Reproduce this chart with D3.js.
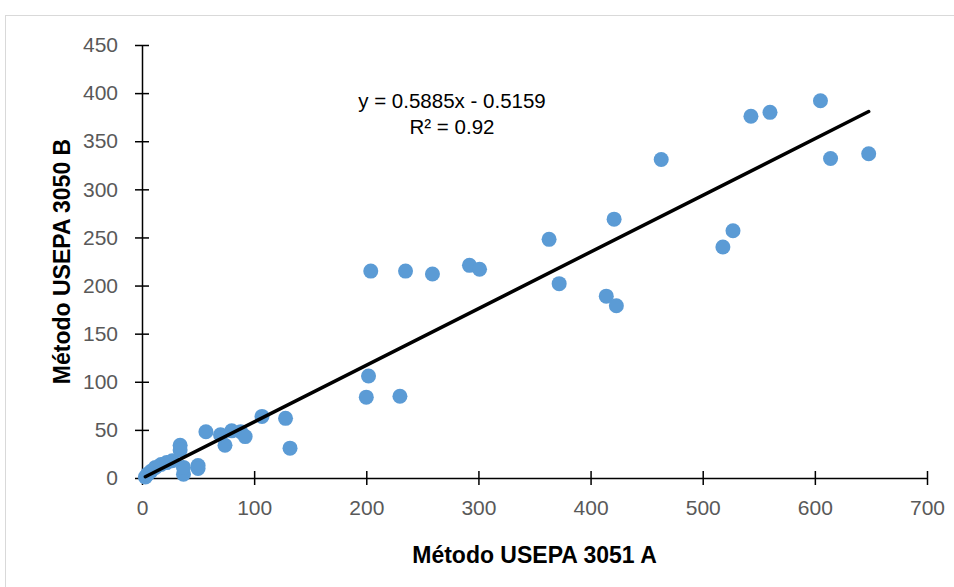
<!DOCTYPE html>
<html>
<head>
<meta charset="utf-8">
<script src="https://cdn.jsdelivr.net/npm/d3@7"></script>
<style>
  html, body { margin: 0; padding: 0; background: #fff; }
  svg { display: block; }
</style>
</head>
<body>
<svg id="chart" width="954" height="587"></svg>
<script>
// Data
const xValues = [3, 5, 8, 12, 17, 22, 27, 34, 34, 37, 37, 50, 50, 57, 70, 74, 80, 88, 92, 107, 128, 132,
  200, 202, 204, 230, 235, 259, 292, 301, 363, 372, 414, 421, 423, 463, 518, 527, 543, 560, 605, 614, 648];
const yValues = [1, 4, 7, 11, 14, 16, 18, 34, 29, 4, 11, 13, 10, 48, 45, 34, 49, 48, 43, 64, 62, 31,
  84, 106, 215, 85, 215, 212, 221, 217, 248, 202, 189, 269, 179, 331, 240, 257, 376, 380, 392, 332, 337];
const xTicks = [0, 100, 200, 300, 400, 500, 600, 700];
const yTicks = [0, 50, 100, 150, 200, 250, 300, 350, 400, 450];
const slope = 0.5885;
const intercept = -0.5159;
const equationText = "y = 0.5885x - 0.5159";
const r2Text = "R² = 0.92";
const xTitle = "Método USEPA 3051 A";
const yTitle = "Método USEPA 3050 B";

const svg = d3.select("#chart");
const m = { left: 142, right: 927, top: 45, bottom: 478 };
const x = d3.scaleLinear().domain([0, 700]).range([m.left, m.right]);
const y = d3.scaleLinear().domain([0, 450]).range([m.bottom, m.top]);

// chart area border
svg.append("rect").attr("x", 5.5).attr("y", 15.5).attr("width", 960).attr("height", 600)
  .attr("fill", "none").attr("stroke", "#d9d9d9").attr("stroke-width", 1);

const font = "'Liberation Sans', Arial, sans-serif";

// y axis
const yAxis = svg.append("g").attr("transform", `translate(${m.left},0)`)
  .call(d3.axisLeft(y).tickValues(yTicks).tickSize(7).tickPadding(17).tickSizeOuter(0));
yAxis.selectAll(".tick line").attr("x2", 7).attr("x1", -7);
// x axis
const xAxis = svg.append("g").attr("transform", `translate(0,${m.bottom})`)
  .call(d3.axisBottom(x).tickValues(xTicks).tickSize(7).tickPadding(15).tickSizeOuter(0));
xAxis.selectAll(".tick line").attr("y1", -7).attr("y2", 7);

[yAxis, xAxis].forEach(g => {
  g.select(".domain").attr("stroke", "#000").attr("stroke-width", 1.5);
  g.selectAll(".tick line").attr("stroke", "#000").attr("stroke-width", 1.5);
  g.selectAll(".tick text").attr("fill", "#595959").style("font-family", font).style("font-size", "21px");
});

// points
svg.append("g").selectAll("circle").data(xValues.map((d, i) => [d, yValues[i]])).join("circle")
  .attr("cx", d => x(d[0])).attr("cy", d => y(d[1])).attr("r", 7.5)
  .attr("fill", "#5b9bd5");

// trendline
const xMin = d3.min(xValues), xMax = d3.max(xValues);
svg.append("line")
  .attr("x1", x(xMin)).attr("y1", y(slope * xMin + intercept))
  .attr("x2", x(xMax)).attr("y2", y(slope * xMax + intercept))
  .attr("stroke", "#000").attr("stroke-width", 3.5).attr("stroke-linecap", "round");

// equation
svg.append("text").attr("x", 452).attr("y", 108).attr("text-anchor", "middle")
  .style("font-family", font).style("font-size", "20.5px").attr("fill", "#000").text(equationText);
svg.append("text").attr("x", 452).attr("y", 134).attr("text-anchor", "middle")
  .style("font-family", font).style("font-size", "20.5px").attr("fill", "#000").text(r2Text);

// axis titles
svg.append("text").attr("x", (m.left + m.right) / 2).attr("y", 563).attr("text-anchor", "middle")
  .style("font-family", font).style("font-size", "23px").style("font-weight", "bold").attr("fill", "#000")
  .text(xTitle);
svg.append("text").attr("transform", `translate(70,${(m.top + m.bottom) / 2}) rotate(-90)`)
  .attr("text-anchor", "middle")
  .style("font-family", font).style("font-size", "23px").style("font-weight", "bold").attr("fill", "#000")
  .text(yTitle);
</script>
</body>
</html>
